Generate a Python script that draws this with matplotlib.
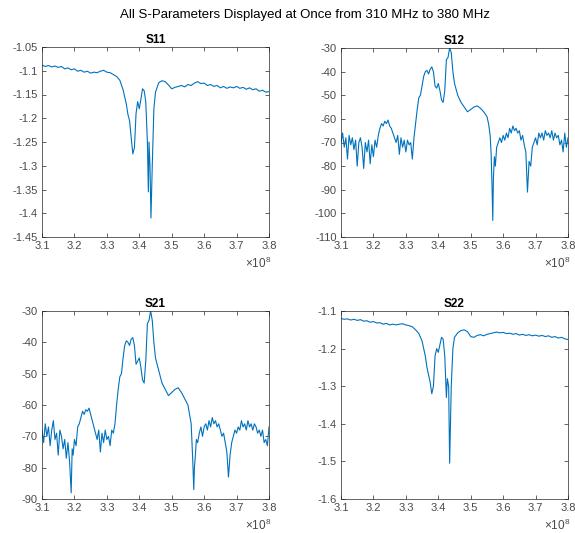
import numpy as np
import matplotlib
matplotlib.use("Agg")
import matplotlib.pyplot as plt
from matplotlib.ticker import FuncFormatter, MultipleLocator

plt.rcParams['font.family'] = ['Liberation Sans', 'DejaVu Sans']
plt.rcParams['mathtext.fontset'] = 'custom'
plt.rcParams['mathtext.rm'] = 'Liberation Sans'

# frequencies in MHz
s11_f = [310, 311, 312, 313, 314, 315, 316, 317, 318, 319, 320, 321, 322, 323, 324, 325, 326, 327,
         328, 329, 330, 331, 332, 333, 334, 335, 335.5, 336, 336.5, 337, 337.5, 338, 338.5, 339,
         339.5, 340, 340.5, 341, 341.5, 342, 342.5, 342.8, 343, 343.3, 343.6, 344, 344.5, 345,
         346, 347, 348, 349, 350, 351, 352, 353, 354, 355, 356, 357, 358, 359, 360, 361, 362, 363,
         364, 365, 366, 367, 368, 369, 370, 371, 372, 373, 374, 375, 376, 377, 378, 379, 380]
s11_v = [-1.088, -1.091, -1.089, -1.092, -1.090, -1.093, -1.091, -1.096, -1.094, -1.098, -1.096,
         -1.101, -1.099, -1.103, -1.101, -1.105, -1.103, -1.104, -1.101, -1.099, -1.103, -1.104,
         -1.108, -1.112, -1.120, -1.140, -1.155, -1.170, -1.192, -1.205, -1.240, -1.275, -1.262,
         -1.190, -1.165, -1.180, -1.160, -1.138, -1.142, -1.165, -1.250, -1.355, -1.250, -1.300,
         -1.410, -1.300, -1.180, -1.145, -1.125, -1.121, -1.123, -1.130, -1.138, -1.135, -1.133,
         -1.131, -1.134, -1.129, -1.131, -1.126, -1.123, -1.127, -1.126, -1.131, -1.129, -1.133,
         -1.131, -1.136, -1.133, -1.137, -1.134, -1.136, -1.133, -1.137, -1.135, -1.139, -1.136,
         -1.140, -1.138, -1.143, -1.141, -1.145, -1.144]

s12_f = [310, 310.5, 311, 311.5, 312, 312.5, 313, 313.5, 314, 314.5, 315, 315.5, 316, 316.5, 317,
         317.5, 318, 318.5, 319, 319.5, 320, 320.5, 321, 321.5, 322, 322.5, 323, 323.5, 324, 324.5,
         325, 325.5, 326, 326.5, 327, 327.5, 328, 328.5, 329, 329.5, 330, 330.5, 331, 331.5, 332,
         332.5, 333, 333.5, 334, 334.5, 335, 335.5, 336, 336.5, 337, 337.5, 338, 338.5, 339, 339.5,
         340, 340.5, 341, 341.5, 342, 342.5, 343, 343.5, 344, 344.5, 345, 346, 347, 348, 349, 350,
         351, 352, 353, 354, 355, 355.5, 356, 356.3, 356.6, 356.8, 357, 357.3, 357.6, 358, 358.5,
         359, 359.5, 360, 360.5, 361, 361.5, 362, 362.5, 363, 363.5, 364, 364.5, 365, 365.5, 366,
         366.5, 367, 367.5, 368, 368.5, 369, 369.5, 370, 370.5, 371, 371.5, 372, 372.5, 373, 373.5,
         374, 374.5, 375, 375.5, 376, 376.5, 377, 377.5, 378, 378.5, 379, 379.5, 380]
s12_v = [-70, -66, -72, -68, -77, -67, -71, -68, -73, -69, -80, -70, -68, -72, -81, -70, -74, -69,
         -79, -71, -76, -69, -72, -67, -64, -62, -63, -61, -62, -60.5, -63, -64, -66, -68, -70, -67,
         -75, -68, -72, -69, -74, -69, -71, -70, -77, -68, -62, -56, -51, -50, -46, -42, -40, -39.5,
         -41, -39, -38, -40, -46, -47, -45, -48, -52, -53, -48, -35, -34, -30, -32, -40, -45, -50,
         -53, -55, -57, -56, -55, -54.5, -55.5, -57, -59, -62, -67, -75, -90, -103, -85, -76, -80,
         -72, -70, -68, -70, -67, -69, -66, -68, -64, -66, -63, -65, -64, -66, -65, -69, -67, -71,
         -74, -91, -78, -80, -72, -70, -68, -71, -66, -68, -66, -69, -65, -67, -66, -68, -65, -69,
         -66, -68, -67, -71, -69, -74, -66, -72, -68]

s21_f = [310, 310.5, 311, 311.5, 312, 312.5, 313, 313.5, 314, 314.5, 315, 315.5, 316, 316.5, 317,
         317.5, 318, 318.5, 319, 319.3, 319.6, 320, 320.5, 321, 321.5, 322, 322.5, 323, 323.5, 324,
         324.5, 325, 325.5, 326, 326.5, 327, 327.5, 328, 328.5, 329, 329.5, 330, 330.5, 331, 331.5,
         332, 332.5, 333, 333.5, 334, 334.5, 335, 335.5, 336, 336.5, 337, 337.5, 338, 338.5, 339,
         339.5, 340, 340.5, 341, 341.5, 342, 342.5, 343, 343.5, 344, 344.5, 345, 346, 347, 348, 349,
         350, 351, 352, 353, 354, 355, 355.5, 356, 356.5, 356.8, 357, 357.3, 357.6, 358, 358.5, 359,
         359.5, 360, 360.5, 361, 361.5, 362, 362.5, 363, 363.5, 364, 364.5, 365, 365.5, 366, 366.5,
         367, 367.5, 368, 368.5, 369, 369.5, 370, 370.5, 371, 371.5, 372, 372.5, 373, 373.5, 374,
         374.5, 375, 375.5, 376, 376.5, 377, 377.5, 378, 378.5, 379, 379.5, 380]
s21_v = [-68, -72, -66, -70, -67, -73, -68, -65, -71, -69, -76, -68, -70, -74, -71, -77, -72, -78,
         -88, -74, -76, -71, -73, -67, -66, -64, -62, -63, -61.5, -62, -61, -63, -65, -67, -69, -71,
         -68, -75, -69, -72, -68, -71, -70, -73, -68, -69, -66, -60, -55, -51, -50, -45, -41, -39.5,
         -40, -41, -39, -38.5, -41, -47, -46, -45, -48, -52, -53, -46, -34, -33, -30, -33, -40, -45,
         -49, -53, -55, -57, -56, -55, -54.5, -56, -58, -60, -63, -66, -78, -87, -80, -76, -71, -72,
         -69, -67, -70, -67, -66, -68, -65, -67, -64, -66, -65, -67, -66, -68, -70, -69, -72, -75,
         -83, -76, -72, -70, -68, -69, -67, -68, -65, -67, -66, -68, -65, -67, -66, -68, -66, -67,
         -69, -68, -70, -68, -72, -71, -73, -67]

s22_f = [310, 311, 312, 313, 314, 315, 316, 317, 318, 319, 320, 321, 322, 323, 324, 325, 326, 327,
         328, 329, 330, 331, 332, 333, 334, 335, 335.5, 336, 336.5, 337, 337.5, 338, 338.5, 339,
         339.5, 340, 340.5, 341, 341.5, 342, 342.5, 342.8, 343.2, 343.5, 344, 344.5, 345, 346, 347,
         348, 349, 350, 351, 352, 353, 354, 355, 356, 357, 358, 359, 360, 361, 362, 363, 364, 365,
         366, 367, 368, 369, 370, 371, 372, 373, 374, 375, 376, 377, 378, 379, 380]
s22_v = [-1.120, -1.122, -1.121, -1.124, -1.122, -1.125, -1.123, -1.127, -1.126, -1.130, -1.128,
         -1.132, -1.131, -1.135, -1.133, -1.137, -1.135, -1.137, -1.135, -1.134, -1.137, -1.139,
         -1.142, -1.150, -1.160, -1.180, -1.200, -1.220, -1.250, -1.270, -1.290, -1.320, -1.300,
         -1.220, -1.200, -1.210, -1.190, -1.170, -1.175, -1.220, -1.330, -1.280, -1.300, -1.505,
         -1.300, -1.200, -1.170, -1.158, -1.152, -1.150, -1.155, -1.168, -1.170, -1.165, -1.163,
         -1.166, -1.162, -1.160, -1.158, -1.156, -1.158, -1.157, -1.160, -1.159, -1.162, -1.160,
         -1.164, -1.162, -1.165, -1.163, -1.166, -1.164, -1.167, -1.165, -1.168, -1.166, -1.170,
         -1.168, -1.172, -1.170, -1.174, -1.176]

names = ['S11', 'S12', 'S21', 'S22']
series = [(s11_f, s11_v), (s12_f, s12_v), (s21_f, s21_v), (s22_f, s22_v)]
ylims = [(-1.45, -1.05), (-110, -30), (-90, -30), (-1.6, -1.1)]
ysteps = [0.05, 10, 10, 0.1]

# axes boxes in pixels: left, top, right, bottom
W, H = 575, 533
boxes = [(42, 47, 269, 237), (341, 48, 568, 237), (42, 311, 269, 499), (341, 311, 568, 499)]

line_c = '#0072BD'
ax_c = '#262626'
lab_c = '#4a4a4a'

fig = plt.figure(figsize=(W / 100, H / 100), dpi=100)
fig.text(305 / W, 1 - 15 / H, 'All S-Parameters Displayed at Once from 310 MHz to 380 MHz',
         ha='center', va='center', fontsize=9.5, color='black')

for name, (f, v), yl, ys, (l, t, r, b) in zip(names, series, ylims, ysteps, boxes):
    ax = fig.add_axes([l / W, 1 - b / H, (r - l) / W, (b - t) / H])
    ax.plot(np.array(f) * 1e6, v, color=line_c, lw=0.8)
    ax.set_xlim(3.1e8, 3.8e8)
    ax.set_ylim(*yl)
    ax.xaxis.set_major_locator(MultipleLocator(0.1e8))
    ax.yaxis.set_major_locator(MultipleLocator(ys))
    ax.xaxis.set_major_formatter(FuncFormatter(lambda x, p: '%g' % round(x / 1e8, 2)))
    ax.yaxis.set_major_formatter(FuncFormatter(lambda y, p: '%g' % round(y, 3)))
    ax.tick_params(direction='in', length=3, width=0.5, colors=ax_c, labelcolor=lab_c,
                   labelsize=8, top=True, right=True, pad=3)
    for s in ax.spines.values():
        s.set_color(ax_c)
        s.set_linewidth(0.5)
    ax.set_title(name, fontsize=8.5, fontweight='bold', pad=3)
    fig.text((r + 2) / W, 1 - (b + 31) / H, r'$\times10^{8}$', ha='right', va='baseline',
             fontsize=8.5, color=lab_c)

fig.savefig('out.png', dpi=100)
